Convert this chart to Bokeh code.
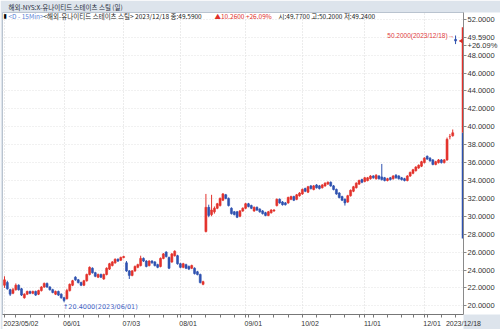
import pandas as pd
from math import pi
from bokeh.plotting import figure
from bokeh.models import ColumnDataSource, FixedTicker, Range1d, Label, PrintfTickFormatter, Title
from bokeh.embed import file_html
from bokeh.resources import INLINE

# ---------------- data ----------------
holidays = ["2023-05-29", "2023-06-19", "2023-07-04", "2023-09-04", "2023-11-23"]
dates = [d for d in pd.bdate_range("2023-05-02", "2023-12-18") if d.strftime("%Y-%m-%d") not in holidays]

opens = [22.3, 22.6, 21.8, 21.4, 21.8, 22.3, 21.9, 20.9, 21.3, 21.6,
         21.4, 21.6, 21.3, 21.7, 22.1, 22.5, 22.1, 21.8, 21.3, 21.6,
         21.3, 20.9, 20.8, 21.7, 22.3, 23.2, 22.9, 22.6, 22.3, 22.8,
         23.5, 24.2, 23.7, 23.2, 23.5, 23.0, 23.5, 24.1, 24.5, 24.8,
         25.2, 25.1, 25.4, 24.8, 23.9, 23.4, 23.9, 24.3, 24.5, 25.3,
         25.0, 24.5, 25.0, 24.9, 24.6, 24.4, 25.3, 26.0, 25.4, 24.9,
         25.6, 25.6, 24.7, 24.3, 24.6, 24.4, 24.2, 24.2, 23.8, 23.5,
         22.4, 28.3, 31.0, 30.2, 30.5, 30.9, 31.2, 31.8, 32.4, 32.0,
         30.9, 30.5, 30.5, 30.0, 30.6, 30.9, 31.4, 31.2, 30.6, 31.0,
         30.8, 30.6, 30.4, 30.1, 30.4, 30.6, 31.2, 31.9, 31.6, 31.5,
         31.5, 31.9, 32.2, 31.9, 32.3, 32.5, 33.1, 32.7, 33.4, 33.0,
         33.5, 33.4, 33.2, 33.4, 33.6, 33.8, 33.4, 33.0, 32.6, 32.2,
         31.9, 31.6, 32.3, 32.8, 33.2, 33.6, 34.1, 33.9, 34.0, 34.2,
         34.5, 34.2, 34.5, 34.4, 34.3, 34.0, 34.3, 34.2, 34.6, 34.5,
         34.3, 34.2, 34.0, 34.5, 34.8, 35.1, 35.4, 35.6, 36.0, 36.7,
         36.5, 36.3, 35.8, 36.0, 36.3, 36.0, 36.3, 38.9, 39.0, 49.77]
closes = [22.9, 21.9, 21.3, 21.8, 22.3, 21.8, 21.2, 21.3, 21.6, 21.4,
          21.6, 21.2, 21.7, 22.1, 22.5, 22.1, 21.8, 21.5, 21.6, 21.2,
          20.9, 20.6, 21.7, 22.4, 22.8, 22.9, 22.6, 22.3, 22.8, 23.5,
          24.3, 23.7, 23.3, 23.5, 23.2, 23.5, 24.2, 24.7, 24.9, 25.2,
          25.0, 25.4, 25.5, 23.9, 23.4, 23.9, 24.4, 24.6, 25.3, 25.0,
          24.4, 25.0, 24.8, 24.5, 24.3, 25.3, 25.8, 25.5, 24.2, 25.8,
          26.1, 24.7, 24.3, 24.7, 24.2, 24.1, 24.5, 23.6, 23.5, 22.6,
          22.7, 31.0, 30.1, 30.7, 30.9, 31.4, 32.0, 32.5, 32.0, 31.2,
          30.3, 30.2, 29.9, 30.6, 30.9, 31.4, 31.1, 30.9, 31.0, 30.7,
          30.5, 30.3, 30.1, 30.5, 30.7, 30.7, 31.9, 31.5, 31.3, 31.3,
          32.1, 32.2, 31.8, 32.4, 32.6, 33.0, 32.8, 33.3, 33.1, 33.4,
          33.2, 33.1, 33.5, 33.7, 33.8, 33.4, 33.0, 32.5, 32.1, 31.8,
          31.5, 32.3, 32.9, 33.3, 33.7, 34.0, 33.8, 34.3, 34.3, 34.5,
          34.3, 34.6, 34.2, 34.1, 34.0, 34.2, 34.1, 34.5, 34.3, 34.2,
          34.1, 34.0, 34.5, 34.9, 35.2, 35.5, 35.7, 36.1, 36.5, 36.4,
          36.2, 35.8, 36.1, 36.3, 36.0, 36.3, 38.6, 38.9, 39.33, 49.59]
highs = [23.3, 22.8, 21.9, 22.0, 22.5, 22.4, 22.0, 21.4, 21.7, 21.7,
         21.7, 21.7, 21.8, 22.2, 22.6, 22.6, 22.2, 21.9, 21.7, 21.7,
         21.4, 21.0, 21.9, 22.5, 22.9, 23.3, 23.0, 22.7, 22.9, 23.6,
         24.4, 24.3, 23.8, 23.6, 23.6, 23.6, 24.3, 24.8, 25.0, 25.3,
         25.3, 25.5, 25.6, 25.0, 24.0, 24.0, 24.5, 24.7, 25.6, 25.4,
         25.1, 25.1, 25.1, 25.0, 24.7, 25.4, 25.9, 26.1, 25.5, 25.9,
         26.2, 25.7, 24.8, 24.8, 24.7, 24.5, 24.6, 24.3, 23.9, 23.6,
         22.8, 32.5, 31.3, 32.4, 31.1, 31.5, 32.1, 32.6, 32.5, 32.1,
         31.0, 30.6, 30.6, 30.7, 31.0, 31.5, 31.5, 31.3, 31.1, 31.1,
         30.9, 30.7, 30.5, 30.6, 30.8, 30.8, 32.0, 32.0, 31.7, 31.6,
         32.2, 32.3, 32.3, 32.5, 32.7, 33.1, 33.2, 33.4, 33.5, 33.5,
         33.6, 33.5, 33.6, 33.8, 33.9, 33.9, 33.5, 33.1, 32.7, 32.3,
         32.0, 32.4, 33.0, 33.4, 33.8, 34.1, 34.2, 34.4, 34.4, 34.6,
         34.6, 34.7, 34.6, 35.85, 34.4, 34.3, 34.4, 34.6, 34.7, 34.6,
         34.4, 34.3, 34.6, 35.0, 35.3, 35.6, 35.8, 36.2, 36.6, 36.8,
         36.6, 36.4, 36.2, 36.4, 36.4, 36.4, 38.8, 39.2, 39.7, 50.2]
lows = [22.0, 21.8, 21.1, 21.3, 21.7, 21.7, 21.1, 20.8, 21.2, 21.3,
        21.3, 21.1, 21.2, 21.6, 22.0, 22.0, 21.7, 21.4, 21.2, 21.1,
        20.8, 20.4, 20.7, 21.6, 22.2, 22.8, 22.5, 22.2, 22.2, 22.7,
        23.4, 23.6, 23.2, 23.1, 23.1, 22.9, 23.4, 24.0, 24.4, 24.7,
        24.9, 25.0, 25.3, 23.8, 23.0, 23.3, 23.8, 24.2, 24.4, 24.9,
        24.3, 24.4, 24.7, 24.4, 24.2, 24.3, 25.2, 25.4, 24.1, 24.8,
        25.5, 24.6, 24.2, 24.2, 24.1, 24.0, 24.1, 23.5, 23.4, 22.5,
        22.3, 28.2, 29.9, 30.0, 30.3, 30.8, 31.1, 31.7, 31.9, 31.1,
        30.2, 30.1, 29.8, 29.9, 30.5, 30.8, 31.0, 30.8, 30.5, 30.6,
        30.4, 30.2, 30.0, 30.0, 30.3, 30.5, 31.1, 31.4, 31.2, 31.2,
        31.4, 31.8, 31.7, 31.8, 32.2, 32.4, 32.7, 32.6, 33.0, 32.9,
        33.1, 33.0, 33.1, 33.3, 33.5, 33.3, 32.9, 32.4, 32.0, 31.7,
        31.2, 31.5, 32.2, 32.7, 33.1, 33.5, 33.7, 33.8, 33.9, 34.1,
        34.2, 34.1, 34.1, 34.0, 33.9, 33.9, 34.0, 34.1, 34.2, 34.1,
        34.0, 33.9, 33.9, 34.4, 34.7, 35.0, 35.3, 35.5, 35.9, 36.3,
        36.1, 35.7, 35.7, 35.9, 35.9, 35.9, 36.2, 38.6, 38.9, 49.24]

y_ticks = list(range(20, 53, 2))
prev_close = 39.33
limit_up = 51.13
limit_down = 27.53

title_text = "해외-NYS:X-유나이티드 스테이츠 스틸 (일)"
info_parts = [  # text, x(px), color
    ("<D - 15Min>", 8, "#5b82d6"),
    ("<해외-유나이티드 스테이츠 스틸> 2023/12/18 종:49.5900", 43, "#222222"),
    ("▲10.2600 +26.09%", 214, "#e0302a"),
    ("시:49.7700 고:50.2000 저:49.2400", 278, "#222222"),
]
last_close_text = "49.5900"
last_change_text = "+26.09%"
last_date_text = "2023/12/18"
high_note = "50.2000(2023/12/18)→"
low_note = "↑20.4000(2023/06/01)"

# ---------------- derived ----------------
UP, DOWN = "#e3322c", "#2f52b0"
BOX_RED = "#d7302a"
HEAD_BG = "#dde4ec"
KR = "Noto Sans CJK KR"
n = len(dates)
idx = list(range(n))
colors = [UP if c >= o else DOWN for o, c in zip(opens, closes)]
src = ColumnDataSource(dict(
    x=idx, o=opens, h=highs, l=lows, c=closes,
    top=[max(a, b) for a, b in zip(opens, closes)],
    bottom=[min(a, b) for a, b in zip(opens, closes)],
    color=colors))

month_idx, month_lab, week_idx = [], [], []
for i, d in enumerate(dates):
    if i == 0 or d.month != dates[i - 1].month:
        month_idx.append(i)
        month_lab.append(d.strftime("%Y/%m/%d") if i == 0 else d.strftime("%m/%d"))
    if i == 0 or d.isocalendar()[1] != dates[i - 1].isocalendar()[1]:
        week_idx.append(i)

W, H = 500, 329
X0, X1 = -0.7, 161.8
Y0, Y1 = 19.03, 52.77
FRAME_L, FRAME_R, FRAME_T, FRAME_B = 2, 467, 9, 316   # page pixels
PX = (FRAME_R - FRAME_L) / (X1 - X0)                    # pixels per bar


def lab(target, text, x, y, color="#222222", size="7px", align="left", font=KR, xu="data", yu="data",
        baseline="middle", **kw):
    L = Label(x=x, y=y, x_units=xu, y_units=yu, text=text, text_color=color, text_font_size=size,
              text_align=align, text_baseline=baseline, text_font=font, **kw)
    target.add_layout(L)
    return L


# ---------------- main chart ----------------
p = figure(width=W, height=H, x_range=Range1d(X0, X1), y_range=Range1d(Y0, Y1),
           y_axis_location="right", toolbar_location=None, output_backend="svg",
           min_border_left=FRAME_L, min_border_right=W - FRAME_R, min_border_top=FRAME_T,
           min_border_bottom=H - FRAME_B)
p.title = Title(text=title_text, align="left", offset=6, standoff=0, text_font=KR,
                text_font_size="6.5px", text_font_style="normal", text_color="#1e2a38",
                vertical_align="middle")
p.background_fill_color = "white"
p.border_fill_color = HEAD_BG
p.outline_line_color = "#b9c3cf"
for ax in (p.xaxis[0], p.yaxis[0]):
    if "background_fill_color" in ax.properties():
        ax.background_fill_color = "white"

# y axis: regular price ticks, plus the current price / change at the last close
tag_hi = round(closes[-1] + 0.44, 2)
tag_lo = round(closes[-1] - 0.46, 2)
axis_ticks = [t for t in y_ticks if abs(t - closes[-1]) > 1.0] + [tag_hi, tag_lo]
p.yaxis.ticker = FixedTicker(ticks=axis_ticks)
p.yaxis.formatter = PrintfTickFormatter(format="%.4f")
p.yaxis.major_label_overrides = {tag_hi: last_close_text, tag_lo: last_change_text}
p.yaxis.major_label_text_font = "Liberation Sans"
p.yaxis.major_label_text_font_size = "7.5px"
p.yaxis.major_label_text_color = "#333333"
p.yaxis.major_tick_out = 3
p.yaxis.major_tick_in = 0
p.yaxis.minor_tick_line_color = None
p.yaxis.major_label_standoff = 1
p.yaxis.axis_line_color = "#8a8a8a"
p.yaxis.major_tick_line_color = "#8a8a8a"


# x axis: labels sit to the right of their tick, as in the original
def half_width_px(t):
    return sum(1.95 if ch == "/" else 3.9 for ch in t) / 2.0


label_pos = [round(i + (half_width_px(t) - 1.0) / PX, 3) for i, t in zip(month_idx, month_lab)]
end_pos = round(X1 - 0.02, 3)
p.xaxis.ticker = FixedTicker(ticks=label_pos + [end_pos], minor_ticks=sorted(set(week_idx + month_idx)))
overrides = {pos: t for pos, t in zip(label_pos, month_lab)}
overrides[end_pos] = last_date_text
p.xaxis.major_label_overrides = overrides
p.xaxis.major_label_text_font = "Liberation Sans"
p.xaxis.major_label_text_font_size = "7px"
p.xaxis.major_label_text_color = "#333333"
p.xaxis.major_label_standoff = 2
p.xaxis.major_tick_out = 0
p.xaxis.major_tick_in = 0
p.xaxis.minor_tick_out = 3
p.xaxis.minor_tick_in = 0
p.xaxis.axis_line_color = "#777777"
p.xaxis.minor_tick_line_color = "#777777"

p.xgrid.ticker = FixedTicker(ticks=month_idx)
p.xgrid.grid_line_color = "#d9d9d9"
p.xgrid.grid_line_dash = "1 2"
p.ygrid.ticker = FixedTicker(ticks=y_ticks)
p.ygrid.grid_line_color = "#e3e3e3"
p.ygrid.grid_line_dash = "1 2"

# candles
p.segment(x0="x", y0="l", x1="x", y1="h", line_color="color", line_width=1, source=src)
p.vbar(x="x", width=0.7, top="top", bottom="bottom", fill_color="color", line_color="color",
       line_width=0.6, source=src)

# coloured axis bar: previous close -> +30% (red) and -> -30% (blue)
bar_x = X1 - 0.5 / PX
p.segment(x0=[bar_x, bar_x], y0=[prev_close, prev_close], x1=[bar_x, bar_x], y1=[limit_up, limit_down],
          line_color=[UP, DOWN], line_width=2.5)
# notch of the price tag
p.scatter(x=[X1], y=[closes[-1]], marker="triangle", angle=pi / 2, size=7, fill_color=BOX_RED,
          line_color=BOX_RED)

# info line inside the chart (canvas units measure from the top)
lab(p, "▮", 3, 15, color="#000000", font="DejaVu Sans", size="6px", xu="canvas", yu="canvas")
for t, x, c in info_parts:
    lab(p, t, x, 15, color=c, size="6.5px", xu="canvas", yu="canvas")

# high / low notes
hi_i = highs.index(max(highs))
lo_i = lows.index(min(lows))
lab(p, high_note, hi_i - 0.5, highs[hi_i], align="right", color="#e04040",
    font="Liberation Sans", size="6.5px")
lab(p, low_note, lo_i - 0.4, lows[lo_i] - 0.55, color="#3f63c4", font="DejaVu Sans", size="6.5px")

open("out.html", "w").write(file_html(p, INLINE))
